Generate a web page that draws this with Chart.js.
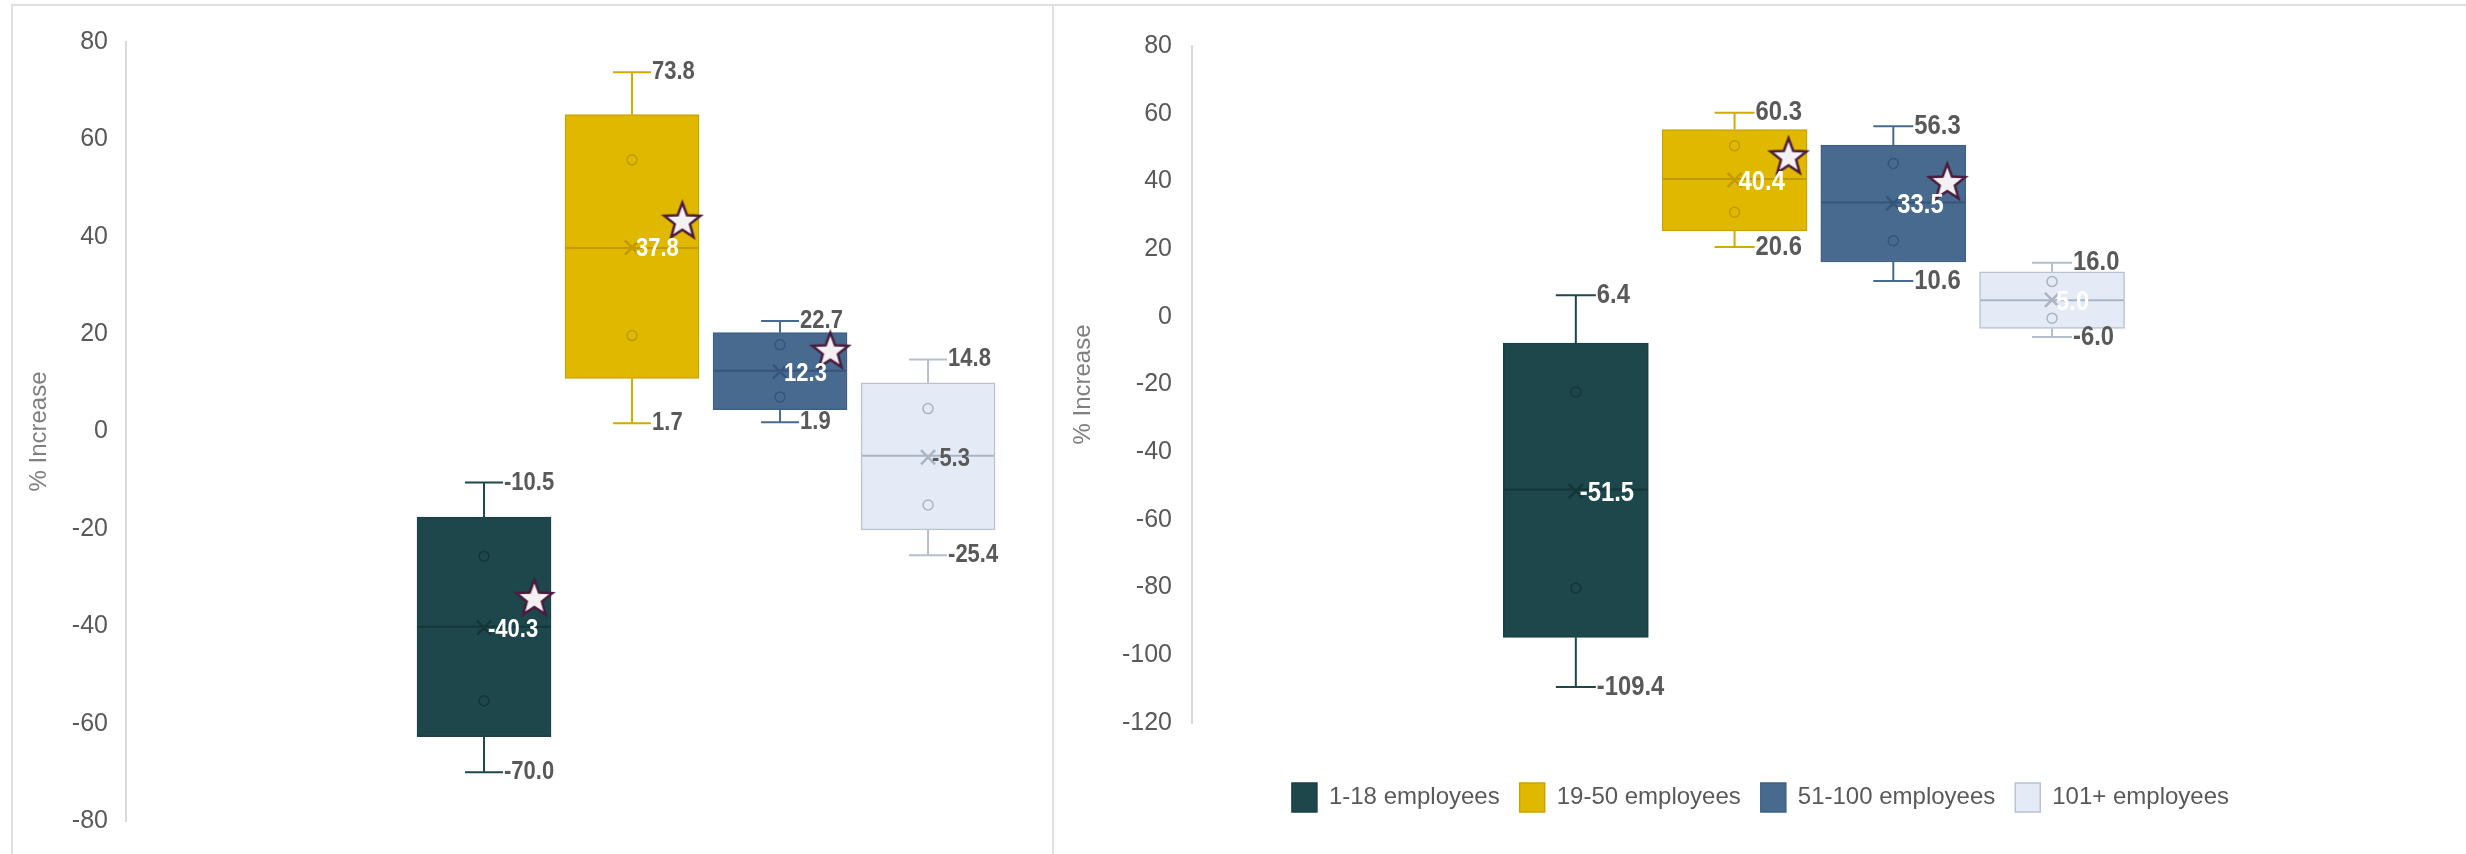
<!DOCTYPE html>
<html lang="en">
<head>
  <meta charset="UTF-8">
  <title>% Increase by company size</title>
  <script src="https://cdn.jsdelivr.net/npm/chart.js"></script>
  <style>
    body {
      margin: 0;
      background: #fff;
      width: 2466px;
      height: 854px;
      overflow: hidden;
      position: relative;
    }
    .frame {
      position: absolute;
      top: 4px;
      height: 900px;
      border-top: 2px solid #e0e0e0;
      border-left: 2px solid #e0e0e0;
      box-sizing: border-box;
    }
    .panel {
      position: absolute;
      top: 7px;
      height: 847px;
    }
  </style>
</head>
<body>
  <div class="frame" style="left:11px; width:1041px;"></div>
  <div class="frame" style="left:1052px; width:1420px;"></div>

  <div class="panel" style="left:13px; width:1039px;"><canvas id="leftChart"></canvas></div>
  <div class="panel" style="left:1055px; width:1411px;"><canvas id="rightChart"></canvas></div>

  <script>
    const categories = ['1-18 employees', '19-50 employees', '51-100 employees', '101+ employees'];
    const positions = [1, 2, 3, 4];

    // left chart
    const leftMin = [-70.0, 1.7, 1.9, -25.4];
    const leftQ1 = [-62.7, 10.9, 4.5, -20.2];
    const leftMedian = [-40.1, 37.7, 12.5, -5.0];
    const leftQ3 = [-17.6, 65.1, 20.3, 10.0];
    const leftMax = [-10.5, 73.8, 22.7, 14.8];
    const leftMean = [-40.3, 37.8, 12.3, -5.3];
    const leftInner = [[-25.6, -55.3], [55.8, 19.7], [17.8, 7.1], [4.7, -15.1]];
    const leftStar = [-34.0, 43.5, 16.8, null];
    const leftTicks = [-80, 80];

    // right chart
    const rightMin = [-109.4, 20.6, 10.6, -6.0];
    const rightQ1 = [-94.7, 25.4, 16.2, -3.4];
    const rightMedian = [-51.0, 40.7, 33.8, 4.9];
    const rightQ3 = [-7.8, 55.3, 50.7, 13.3];
    const rightMax = [6.4, 60.3, 56.3, 16.0];
    const rightMean = [-51.5, 40.4, 33.5, 5.0];
    const rightInner = [[-22.2, -80.2], [50.5, 30.9], [45.3, 22.5], [10.4, -0.4]];
    const rightStar = [null, 47.7, 40.1, null];
    const rightTicks = [-120, 80];

    const fills = ['#1d474b', '#e1b800', '#486a8f', '#e4ebf6'];
    const edges = ['#1a4145', '#c9a400', '#3f6084', '#b8c2d1'];
    const whiskers = ['#1d474b', '#d3ab00', '#486a8f', '#b5bfcc'];
    const marks = ['#143639', '#bf9b00', '#36557a', '#aab4c3'];

    const textFont = '"Liberation Sans", Arial, sans-serif';
    const starShift = 0.34;

    function makeStar(r) {
      const c = document.createElement('canvas');
      const s = Math.ceil(2 * r + 8);
      c.width = s;
      c.height = s;
      const g = c.getContext('2d');
      g.translate(s / 2, s / 2 + r * 0.1);
      g.beginPath();
      for (let k = 0; k < 10; k++) {
        const rad = k % 2 === 0 ? r : r * 0.42;
        const a = -Math.PI / 2 + k * Math.PI / 5;
        g.lineTo(rad * Math.cos(a), rad * Math.sin(a));
      }
      g.closePath();
      g.fillStyle = '#f3f1f2';
      g.fill();
      g.lineWidth = 2.5;
      g.strokeStyle = '#4b1b3d';
      g.stroke();
      return c;
    }

    // narrow bold labels like the original's condensed font
    function narrowText(ctx, text, x, y, squeeze) {
      ctx.save();
      ctx.translate(x, y);
      ctx.scale(squeeze, 1);
      ctx.fillText(text, 0, 0);
      ctx.restore();
    }

    // whiskers, caps, median line and value labels, placed with the chart's own scales
    function boxParts(s) {
      return {
        id: 'boxParts',
        afterDatasetDraw(chart, args) {
          const ds = chart.data.datasets[args.index];
          if (ds.type !== 'bar') return;
          const i = ds.box;
          const bar = args.meta.data[0];
          const y = chart.scales.y;
          const ctx = chart.ctx;
          const cx = bar.x;
          const half = bar.width / 2;
          ctx.save();
          ctx.strokeStyle = whiskers[i];
          ctx.lineWidth = 2;
          ctx.beginPath();
          ctx.moveTo(cx, y.getPixelForValue(s.q3[i]));
          ctx.lineTo(cx, y.getPixelForValue(s.max[i]));
          ctx.moveTo(cx - s.cap, y.getPixelForValue(s.max[i]));
          ctx.lineTo(cx + s.cap, y.getPixelForValue(s.max[i]));
          ctx.moveTo(cx, y.getPixelForValue(s.q1[i]));
          ctx.lineTo(cx, y.getPixelForValue(s.min[i]));
          ctx.moveTo(cx - s.cap, y.getPixelForValue(s.min[i]));
          ctx.lineTo(cx + s.cap, y.getPixelForValue(s.min[i]));
          ctx.stroke();
          ctx.strokeStyle = marks[i];
          ctx.beginPath();
          ctx.moveTo(cx - half + 1, y.getPixelForValue(s.median[i]));
          ctx.lineTo(cx + half - 1, y.getPixelForValue(s.median[i]));
          ctx.stroke();
          ctx.restore();
        },
        afterDatasetsDraw(chart) {
          const ctx = chart.ctx;
          const x = chart.scales.x;
          const y = chart.scales.y;
          ctx.save();
          ctx.font = 'bold ' + s.fontSize + 'px ' + textFont;
          ctx.textBaseline = 'middle';
          ctx.textAlign = 'left';
          positions.forEach((p, i) => {
            const cx = x.getPixelForValue(p);
            ctx.fillStyle = '#595959';
            narrowText(ctx, s.max[i].toFixed(1), cx + s.cap + 1, y.getPixelForValue(s.max[i]), s.squeeze);
            narrowText(ctx, s.min[i].toFixed(1), cx + s.cap + 1, y.getPixelForValue(s.min[i]), s.squeeze);
            ctx.fillStyle = s.meanColors[i];
            narrowText(ctx, s.mean[i].toFixed(1), cx + 4, y.getPixelForValue(s.mean[i]) + 2, s.squeeze);
          });
          ctx.restore();
        }
      };
    }

    function buildChart(id, s) {
      const datasets = positions.map((p, i) => ({
        type: 'bar',
        label: categories[i],
        box: i,
        data: [{ x: p, y: [s.q1[i], s.q3[i]] }],
        backgroundColor: fills[i],
        borderColor: edges[i],
        borderWidth: 1.5,
        borderSkipped: false,
        barThickness: s.boxWidth,
        grouped: false,
        order: 5
      }));

      const inner = [];
      const innerColors = [];
      s.inner.forEach((vals, i) => vals.forEach(v => {
        inner.push({ x: positions[i], y: v });
        innerColors.push(marks[i]);
      }));
      datasets.push({
        type: 'scatter',
        label: 'points',
        data: inner,
        pointStyle: 'circle',
        pointRadius: 5,
        pointBackgroundColor: 'rgba(0,0,0,0)',
        pointBorderColor: innerColors,
        pointBorderWidth: 1.5,
        order: 3
      });

      datasets.push({
        type: 'scatter',
        label: 'mean',
        data: positions.map((p, i) => ({ x: p, y: s.mean[i] })),
        pointStyle: 'crossRot',
        pointRadius: 10,
        pointBorderColor: marks,
        pointBorderWidth: 2.5,
        order: 2
      });

      const star = makeStar(19);
      datasets.push({
        type: 'scatter',
        label: 'star',
        data: positions.map((p, i) => ({ x: p + starShift, y: s.star[i] })).filter(d => d.y !== null),
        pointStyle: star,
        order: 1
      });

      return new Chart(document.getElementById(id), {
        type: 'bar',
        data: { datasets },
        plugins: [boxParts(s)],
        options: {
          responsive: true,
          maintainAspectRatio: false,
          animation: false,
          layout: { padding: s.padding },
          plugins: {
            tooltip: { enabled: false },
            legend: {
              display: s.legend,
              position: 'bottom',
              labels: {
                filter: item => item.datasetIndex < 4,
                boxWidth: 25,
                boxHeight: 29,
                padding: 20,
                color: '#595959',
                font: { family: textFont, size: 24 }
              }
            }
          },
          scales: {
            x: {
              type: 'linear',
              offset: false,
              min: s.xRange[0],
              max: s.xRange[1],
              display: s.legend,
              grid: { display: false },
              border: { display: false },
              ticks: { display: false },
              afterFit: sc => { sc.height = s.gap; }
            },
            y: {
              min: s.ticks[0],
              max: s.ticks[1],
              grid: { display: false, drawTicks: false },
              border: { display: true, color: '#d9d9d9', width: 2 },
              ticks: {
                stepSize: 20,
                padding: s.tickPad,
                color: '#595959',
                font: { family: textFont, size: 25 }
              },
              title: {
                display: true,
                text: '% Increase',
                color: '#7f7f7f',
                font: { family: textFont, size: 24 },
                padding: { top: s.titlePad, bottom: 0 }
              },
              afterFit: sc => { sc.width = s.axisWidth; }
            }
          }
        }
      });
    }

    buildChart('leftChart', {
      min: leftMin, q1: leftQ1, median: leftMedian, q3: leftQ3, max: leftMax,
      mean: leftMean, inner: leftInner, star: leftStar, ticks: leftTicks,
      meanColors: ['#ffffff', '#ffffff', '#ffffff', '#595959'],
      xRange: [-1.419, 4.753],
      boxWidth: 134, cap: 19, fontSize: 25, squeeze: 0.88,
      padding: { top: 35, bottom: 24, left: 0, right: 0 },
      axisWidth: 113, tickPad: 18, titlePad: 12,
      legend: false, gap: 0
    });

    buildChart('rightChart', {
      min: rightMin, q1: rightQ1, median: rightMedian, q3: rightQ3, max: rightMax,
      mean: rightMean, inner: rightInner, star: rightStar, ticks: rightTicks,
      meanColors: ['#ffffff', '#ffffff', '#ffffff', '#ffffff'],
      xRange: [-1.418, 6.529],
      boxWidth: 145, cap: 20, fontSize: 28, squeeze: 0.85,
      padding: { top: 39, bottom: 32, left: 0, right: 0 },
      axisWidth: 137, tickPad: 20, titlePad: 14,
      legend: true, gap: 40
    });
  </script>
</body>
</html>
